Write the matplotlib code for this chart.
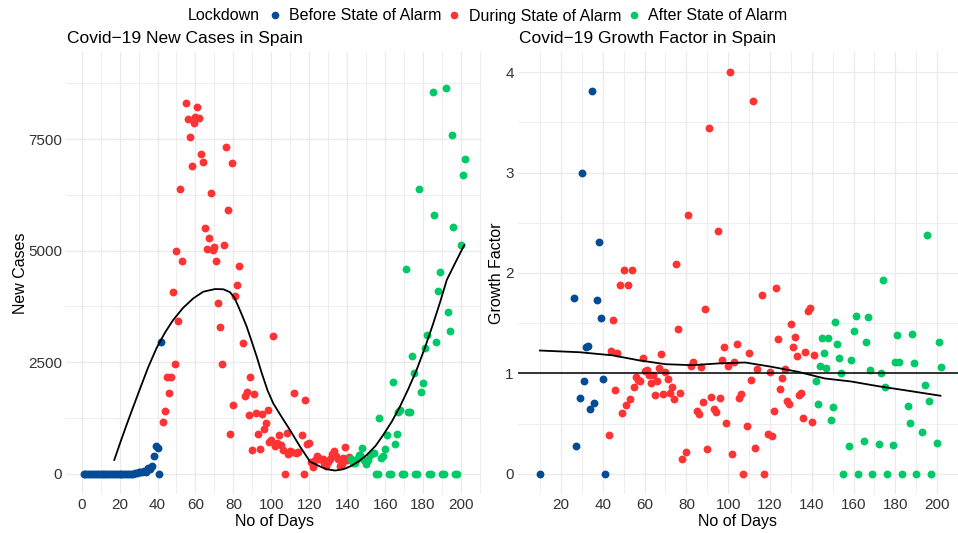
import matplotlib
matplotlib.use("Agg")
import matplotlib.pyplot as plt
from matplotlib.lines import Line2D

plt.rcParams['font.family'] = ['Liberation Sans', 'DejaVu Sans']

# ---- colours of the three lockdown phases
phase_names = ["Before State of Alarm", "During State of Alarm", "After State of Alarm"]
phase_colors = ["#034B97", "#FF3333", "#00C967"]

# ---- new cases per day (left panel)
before_days = list(range(1, 43))
before_cases = [0, 0, 0, 0, 0, 0, 0, 0, 1, 0,
                0, 0, 0, 0, 0, 0, 0, 0, 0, 0,
                0, 0, 0, 0, 4, 7, 2, 17, 13, 39,
                36, 45, 58, 37, 143, 101, 175, 405, 628, 590,
                0, 2950]

during_days = [43, 44, 45, 46, 47, 48, 49, 50, 51, 52, 53, 55, 56, 57, 58, 59, 60,
               61, 62, 63, 64, 65, 66, 67, 68, 69, 70, 71, 72, 73, 74, 75, 76, 77,
               78, 79, 80, 81, 82, 83, 85, 86, 87, 88, 89, 90, 91, 92, 93, 94, 95,
               96, 97, 98, 99, 100, 101, 102, 103, 104, 105, 106, 107, 108, 109,
               110, 111, 112, 113, 114, 116, 117, 118, 119, 120, 121, 122, 123,
               124, 125, 126, 127, 128, 129, 130, 131, 132, 133, 134, 135, 136,
               137, 138, 139, 140, 141]
during_cases = [1170, 1410, 2170, 1820, 2180, 4080, 2470, 4990, 3420, 6390, 4770,
                8300, 7950, 7540, 6900, 7870, 8000, 8220, 7970, 7170, 6990, 5500,
                5045, 5285, 6300, 5015, 5075, 4770, 3830, 3285, 2460, 5125, 7330,
                5910, 889, 6970, 1545, 3980, 4225, 4650, 2926, 1750, 1840, 1321,
                2165, 525, 1791, 1372, 889, 553, 1336, 1005, 1135, 1420, 723, 770,
                3096, 615, 685, 870, 655, 525, 0, 925, 440, 515, 480, 1806, 470,
                485, 866, 0, 1665, 674, 684, 262, 165, 305, 405, 344, 327, 340,
                248, 174, 259, 326, 444, 519, 410, 332, 186, 225, 365, 600, 313, 370]

after_days = [142, 143, 144, 145, 146, 147, 148, 149, 150, 151, 152, 153, 154, 155,
              156, 157, 158, 159, 160, 161, 162, 163, 164, 165, 166, 167, 168, 169,
              170, 171, 172, 173, 174, 175, 176, 177, 178, 179, 180, 181, 182, 183,
              184, 185, 186, 187, 188, 189, 190, 191, 192, 193, 194, 195, 196, 197,
              198, 200, 201, 202]
after_cases = [340, 238, 255, 344, 413, 434, 586, 316, 212, 320, 413, 475, 475, 0,
               0, 1245, 355, 400, 565, 870, 0, 0, 2050, 676, 886, 1382, 1423, 0,
               0, 4600, 1380, 1380, 2640, 2270, 0, 0, 6380, 1840, 2045, 2810, 3110, 0,
               0, 8550, 5790, 2960, 4105, 4520, 0, 0, 8640, 3635, 3190, 7590, 5520, 0,
               0, 5130, 6690, 7060]

# smooth (loess) curve of the new cases
cases_fit_days = [17.2, 20.5, 23.7, 27.0, 30.7, 35.0, 39.5, 44.0, 48.3, 53.5, 58.8,
                  64.1, 70.3, 74.7, 78.2, 80.5, 82.6, 84.8, 87.0, 89.7, 92.3, 95.0,
                  98.0, 101.0, 105.5, 109.8, 115.0, 120.4, 125.7, 129.2, 133.6,
                  138.0, 141.5, 146.0, 150.3, 155.0, 159.0, 163.5, 167.8, 172.2,
                  176.6, 181.0, 185.4, 189.0, 192.5, 197.0, 201.7]
cases_fit = [313, 720, 1100, 1480, 1900, 2380, 2820, 3170, 3450, 3720, 3930,
             4080, 4140, 4135, 4070, 3950, 3750, 3530, 3300, 2960, 2625, 2250,
             1870, 1580, 1270, 985, 620, 275, 165, 105, 75,
             105, 165, 280, 425, 630, 873, 1170, 1507, 1900,
             2330, 2830, 3375, 3850, 4345, 4730, 5125]

# ---- growth factor (right panel)
g_before_days = [10, 26, 27, 29, 30, 31, 32, 33, 34, 35, 36, 37, 38, 39, 40, 41]
g_before = [0, 1.75, 0.28, 0.76, 3.00, 0.92, 1.26, 1.27, 0.65, 3.81, 0.71, 1.73,
            2.31, 1.55, 0.94, 0]

g_during_days = [43, 44, 45, 46, 47, 48, 49, 50, 51, 52, 53, 54, 55, 56, 57, 58, 59,
                 60, 61, 62, 63, 64, 65, 66, 67, 68, 69, 70, 71, 72, 73, 74, 75, 76,
                 77, 78, 80, 81, 82, 83, 85, 86, 87, 88, 89, 90, 91, 92, 93, 94, 95,
                 96, 97, 98, 99, 100, 101, 102, 103, 104, 105, 106, 107, 109, 110,
                 111, 112, 113, 114, 116, 117, 119, 120, 121, 122, 123, 124, 125,
                 126, 127, 128, 129, 130, 131, 132, 133, 134, 135, 136, 137, 138,
                 139, 140, 141]
g_during = [0.39, 1.22, 1.53, 0.84, 1.20, 1.88, 0.61, 2.03, 0.69, 1.88, 0.75, 2.03,
            0.86, 0.96, 0.93, 0.92, 1.15, 1.02, 1.03, 0.98, 0.90, 0.98, 0.79, 0.92,
            1.05, 1.19, 0.80, 1.01, 0.94, 0.81, 0.86, 0.75, 2.09, 1.44, 0.81, 0.15,
            0.22, 2.58, 1.07, 1.11, 0.63, 0.60, 1.06, 0.72, 1.64, 0.25, 3.44, 0.77,
            0.65, 0.62, 2.42, 0.76, 1.13, 1.26, 0.51, 1.07, 4.00, 0.20, 1.11, 1.29,
            0.76, 0.80, 0, 0.48, 1.20, 0.93, 3.71, 0.26, 1.04, 1.78, 0, 0.40, 1.01,
            0.38, 0.63, 1.85, 1.34, 0.85, 0.95, 1.04, 0.73, 0.70, 1.49, 1.26, 1.36,
            1.17, 0.79, 0.81, 0.56, 1.21, 1.62, 1.65, 0.52, 1.18]

g_after_days = [142, 143, 144, 145, 146, 147, 148, 149, 150, 151, 152, 153, 154, 155,
                158, 159, 160, 161, 162, 165, 166, 167, 168, 169, 172, 173, 174, 175,
                176, 179, 180, 181, 182, 183, 186, 187, 188, 189, 190, 193, 194, 195,
                196, 197, 200, 201, 202]
g_after = [0.92, 0.70, 1.07, 1.35, 1.20, 1.05, 1.35, 0.54, 0.67, 1.51, 1.29, 1.15,
           1.00, 0, 0.28, 1.13, 1.42, 1.57, 0, 0.33, 1.31, 1.56, 1.03, 0, 0.30, 1.00,
           1.93, 0.86, 0, 0.29, 1.11, 1.38, 1.11, 0, 0.68, 0.51, 1.39, 1.10, 0, 0.42,
           0.88, 2.38, 0.73, 0, 0.31, 1.31, 1.06]

growth_fit_days = [9.9, 28.9, 44.7, 57.4, 70.1, 82.8, 95.5, 108.2, 120.8, 133.5,
                   146.2, 158.8, 171.5, 184.2, 201.6]
growth_fit = [1.228, 1.211, 1.18, 1.13, 1.092, 1.082, 1.10, 1.109, 1.066, 1.016,
              0.95, 0.92, 0.874, 0.834, 0.778]

# ---- figure
fig = plt.figure(figsize=(9.58, 5.33), dpi=100)
ax1 = fig.add_axes([0.0694, 0.0732, 0.4336, 0.8293])
ax2 = fig.add_axes([0.5407, 0.0732, 0.4593, 0.8293])

grid_col = "#EBEBEB"
tick_col = "#333333"


def style(ax):
    for s in ax.spines.values():
        s.set_visible(False)
    ax.set_axisbelow(True)
    ax.grid(which="major", color=grid_col, linewidth=1.0)
    ax.grid(which="minor", color=grid_col, linewidth=0.6)
    ax.tick_params(which="both", length=0, labelsize=11, colors=tick_col, pad=3)


pt = 32
# left: new cases
for days, vals, c in zip([before_days, during_days, after_days],
                         [before_cases, during_cases, after_cases], phase_colors):
    ax1.scatter(days, vals, s=pt, color=c, linewidths=0, zorder=2)
ax1.plot(cases_fit_days, cases_fit, color="black", linewidth=1.3, zorder=3)
ax1.set_xlim(-8, 211)
ax1.set_ylim(-450, 9450)
ax1.set_xticks(range(0, 201, 20))
ax1.set_xticks(range(10, 211, 20), minor=True)
ax1.set_yticks([0, 2500, 5000, 7500])
ax1.set_yticks([1250, 3750, 6250, 8750], minor=True)
style(ax1)
ax1.set_xlabel("No of Days", fontsize=11.5, labelpad=1)
ax1.set_ylabel("New Cases", fontsize=11.5, labelpad=0)

# right: growth factor
for days, vals, c in zip([g_before_days, g_during_days, g_after_days],
                         [g_before, g_during, g_after], phase_colors):
    ax2.scatter(days, vals, s=pt, color=c, linewidths=0, zorder=2)
ax2.axhline(1, color="black", linewidth=1.1, zorder=3)
ax2.plot(growth_fit_days, growth_fit, color="black", linewidth=1.3, zorder=3)
ax2.set_xlim(-0.6, 208.6)
ax2.set_ylim(-0.2, 4.2)
ax2.set_xticks(range(20, 201, 20))
ax2.set_xticks(range(10, 211, 20), minor=True)
ax2.set_yticks([0, 1, 2, 3, 4])
ax2.set_yticks([0.5, 1.5, 2.5, 3.5], minor=True)
style(ax2)
ax2.set_xlabel("No of Days", fontsize=11.5, labelpad=1)
ax2.set_ylabel("Growth Factor", fontsize=11.5, labelpad=1)

fig.text(67 / 958, 1 - 38 / 533, "Covid\u221219 New Cases in Spain", fontsize=12.5,
         ha="left", va="center")
fig.text(519 / 958, 1 - 38 / 533, "Covid\u221219 Growth Factor in Spain", fontsize=12.5,
         ha="left", va="center")

# legend on top
handles = [Line2D([], [], linestyle="none", marker="o", markersize=5.5,
                  markerfacecolor=c, markeredgewidth=0) for c in phase_colors]
fig.text(260 / 958, 1 - 16 / 533, "Lockdown", fontsize=11.5, ha="right", va="center")
fig.legend(handles, phase_names, loc="center", bbox_to_anchor=(528 / 958, 1 - 16 / 533),
           ncol=3, frameon=False, fontsize=11.5, handlelength=0.8, handletextpad=0.5,
           columnspacing=0.4, borderpad=0, borderaxespad=0)

fig.savefig("out.png", dpi=100)
